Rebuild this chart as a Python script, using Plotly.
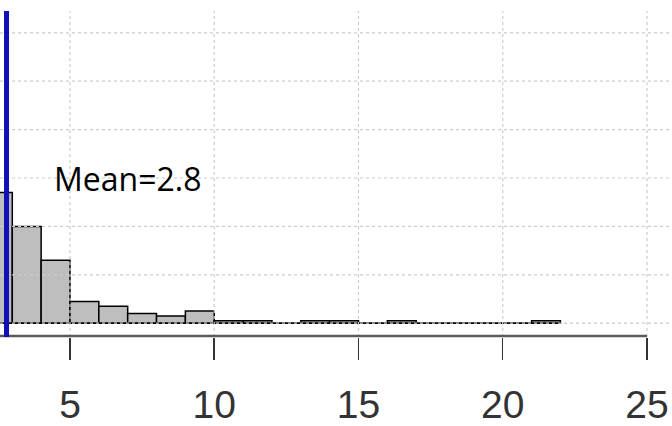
import plotly.graph_objects as go

# ---- data ----
bin_left = [2, 3, 4, 5, 6, 7, 8, 9, 10, 11, 12, 13, 14, 15, 16, 17, 18, 19, 20, 21]
counts = [54, 40, 26, 9, 7, 4, 3, 5, 1, 1, 0, 1, 1, 0, 1, 0, 0, 0, 0, 1]
mean_value = 2.8
x_ticks = [5, 10, 15, 20, 25]
y_grid = [0, 20, 40, 60, 80, 100, 120]

X_RANGE = [2.574, 25.867]
Y_RANGE = [-5.7, 129]

bin_centers = [b + 0.5 for b in bin_left]

fig = go.Figure()
fig.add_trace(go.Bar(
    x=bin_centers, y=counts, width=1,
    marker=dict(color="#bebebe", line=dict(color="black", width=1.5)),
    hoverinfo="skip", showlegend=False,
))

grid_style = dict(color="#cccccc", width=1.2, dash="3px,3px")
shapes = []
# bottom borders of the histogram cells (zero-height bins included)
shapes.append(dict(type="line", xref="x", yref="y", x0=bin_left[0], x1=bin_left[-1] + 1,
                   y0=0, y1=0, line=dict(color="black", width=1.5), layer="above"))
for gy in y_grid:
    shapes.append(dict(type="line", xref="paper", yref="y", x0=0, x1=1, y0=gy, y1=gy,
                       line=grid_style, layer="above"))
for gx in x_ticks:
    shapes.append(dict(type="line", xref="x", yref="paper", x0=gx, x1=gx, y0=0, y1=1,
                       line=grid_style, layer="above"))
# x axis line (spans up to the last tick)
shapes.append(dict(type="line", xref="x", yref="paper", x0=X_RANGE[0], x1=x_ticks[-1],
                   y0=0.003, y1=0.003, line=dict(color="#5a5a5a", width=2.5), layer="above"))
# mean line
shapes.append(dict(type="line", xref="x", yref="paper", x0=mean_value, x1=mean_value,
                   y0=0, y1=1, line=dict(color="#1010b4", width=5), layer="above"))

fig.update_layout(
    width=672, height=426,
    margin=dict(l=0, r=0, t=11, b=85),
    paper_bgcolor="white", plot_bgcolor="white",
    bargap=0,
    shapes=shapes,
    xaxis=dict(range=X_RANGE, tickvals=x_ticks, ticktext=[str(t) for t in x_ticks],
               ticks="outside", ticklen=22, tickwidth=1.5, tickcolor="#333333",
               ticklabelstandoff=11,
               showgrid=False, zeroline=False, showline=False,
               tickfont=dict(family="Liberation Sans, Arial, sans-serif", size=39, color="#333333")),
    yaxis=dict(range=Y_RANGE, visible=False, showgrid=False, zeroline=False),
    annotations=[dict(x=7.0, y=59.6, xref="x", yref="y", text="Mean=2.8", showarrow=False,
                      xanchor="center", yanchor="middle",
                      font=dict(family="Open Sans, sans-serif", size=32, color="black"))],
)

fig.write_html("out.html",
               config={"displayModeBar": False, "staticPlot": True},
               post_script="document.body.style.margin='0';document.body.style.overflow='hidden';")
